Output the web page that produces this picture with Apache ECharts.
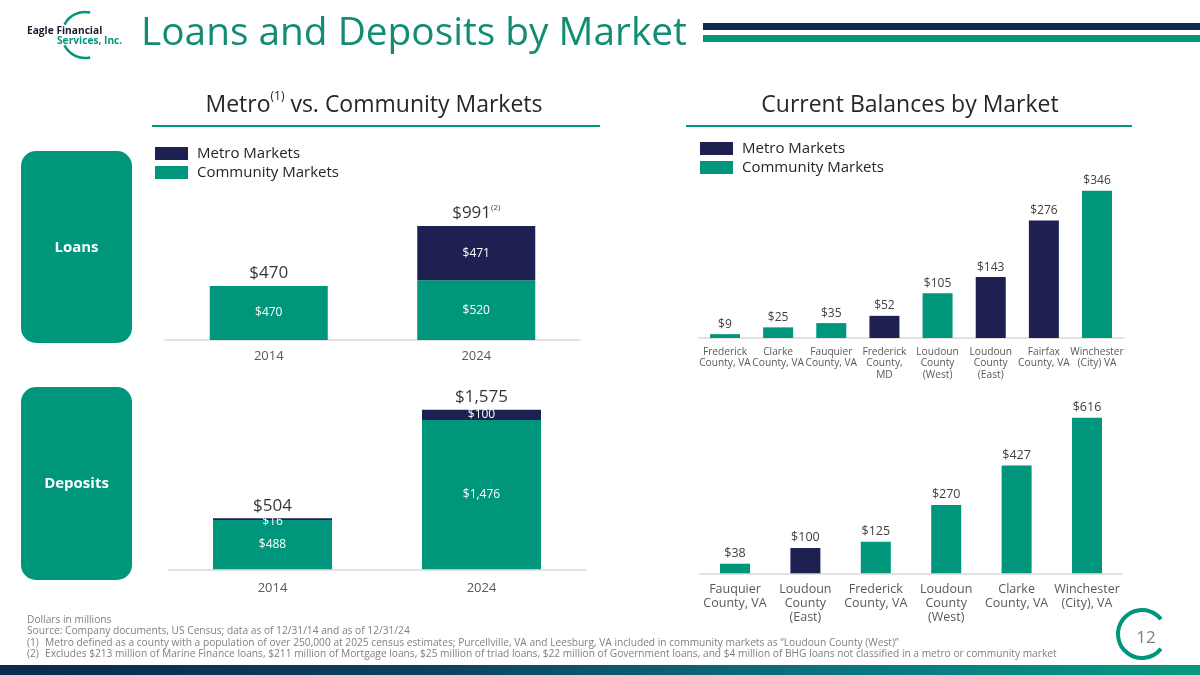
<!DOCTYPE html>
<html><head><meta charset="utf-8">
<script src="https://cdn.jsdelivr.net/npm/echarts@6/dist/echarts.min.js"></script>
<style>html,body{margin:0;padding:0;background:#fff}#c{width:1200px;height:675px}</style>
</head><body><div id="c"></div>
<script>
// ---------- data ----------
const years = ['2014', '2024'];
const loansCommunity = [470, 520];
const loansMetro = [null, 471];
const loansTotal = [470, 991];
const loansTotalNote = ['', '(2)'];
const depositsCommunity = [488, 1476];
const depositsMetro = [16, 100];
const depositsTotal = [504, 1575];

const loanMarkets = ['Frederick\nCounty, VA', 'Clarke\nCounty, VA', 'Fauquier\nCounty, VA', 'Frederick\nCounty,\nMD',
  'Loudoun\nCounty\n(West)', 'Loudoun\nCounty\n(East)', 'Fairfax\nCounty, VA', 'Winchester\n(City) VA'];
const loanBalances = [9, 25, 35, 52, 105, 143, 276, 346];
const loanMarketType = ['C', 'C', 'C', 'M', 'C', 'M', 'M', 'C'];

const depositMarkets = ['Fauquier\nCounty, VA', 'Loudoun\nCounty\n(East)', 'Frederick\nCounty, VA',
  'Loudoun\nCounty\n(West)', 'Clarke\nCounty, VA', 'Winchester\n(City), VA'];
const depositBalances = [38, 100, 125, 270, 427, 616];
const depositMarketType = ['C', 'M', 'C', 'C', 'C', 'C'];

const footnotes = [
  ['', 'Dollars in millions'],
  ['', 'Source: Company documents, US Census; data as of 12/31/14 and as of 12/31/24'],
  ['(1)', 'Metro defined as a county with a population of over 250,000 at 2025 census estimates; Purcellville, VA and Leesburg, VA included in community markets as \u201cLoudoun County (West)\u201d'],
  ['(2)', 'Excludes $213 million of Marine Finance loans, $211 million of Mortgage loans, $25 million of triad loans, $22 million of Government loans, and $4 million of BHG loans not classified in a metro or community market']
];

// ---------- style ----------
const TEAL = '#00967C';
const NAVY = '#1F2052';
const FONT = "'Open Sans', sans-serif";
const fmt = v => '$' + Number(v).toLocaleString('en-US');
const pick = (vals, types, t) => vals.map((v, i) => types[i] === t ? v : null);

const chart = echarts.init(document.getElementById('c'), null, { renderer: 'canvas' });

const baseX = (idx, data, fs, lh, margin) => ({
  type: 'category', gridIndex: idx, data: data,
  axisLine: { lineStyle: { color: '#D9D9D9', width: 1.5 } },
  axisTick: { show: false },
  axisLabel: { interval: 0, color: '#595959', fontSize: fs, lineHeight: lh, margin: margin, fontFamily: FONT }
});
const baseY = (idx, max) => ({ type: 'value', gridIndex: idx, min: 0, max: max, show: false, splitLine: { show: false } });
const grid = (left, width, top, height) => ({ left, width, top, height, containLabel: false, outerBoundsMode: 'none' });

const innerLabel = { show: true, position: 'inside', color: '#fff', fontSize: 12, fontFamily: FONT, formatter: p => fmt(p.value) };
const topLabel = (fs) => ({ show: true, position: 'top', distance: 4, color: '#404040', fontSize: fs, fontFamily: FONT, formatter: p => fmt(p.value) });

const totalSeries = (idx, data, notes) => ({
  type: 'scatter', xAxisIndex: idx, yAxisIndex: idx, data: data, symbolSize: 1,
  itemStyle: { color: 'rgba(0,0,0,0)' }, silent: true, z: 10,
  label: {
    show: true, position: 'top', distance: 2, color: '#000',
    formatter: p => '{v|' + fmt(p.value) + '}' + (notes && notes[p.dataIndex] ? '{s|' + notes[p.dataIndex] + '}' : ''),
    rich: {
      v: { fontSize: 17, color: '#000', fontFamily: FONT, lineHeight: 20 },
      s: { fontSize: 8, color: '#000', fontFamily: FONT, verticalAlign: 'top', lineHeight: 10 }
    }
  }
});

const depMetroData = depositsMetro.map((v, i) => (v !== null && v < 40)
  ? { value: v, label: { position: 'bottom', distance: 0, offset: [0, -4] } } : v);

const option = {
  animation: false,
  backgroundColor: '#ffffff',
  textStyle: { fontFamily: FONT },
  grid: [
    grid(165, 415, 202, 138),
    grid(168, 418, 387.1, 182.2),
    grid(698.4, 425.2, 167.7, 170.3),
    grid(699.8, 422.4, 396.5, 176.8)
  ],
  xAxis: [
    baseX(0, years, 13, 16, 8),
    baseX(1, years, 13, 16, 11),
    baseX(2, loanMarkets, 10.2, 11.5, 8),
    baseX(3, depositMarkets, 12.5, 14, 9)
  ],
  yAxis: [baseY(0, 1200), baseY(1, 1800), baseY(2, 400), baseY(3, 700)],
  legend: [
    { left: 155, top: 145.5, padding: 0, orient: 'vertical', icon: 'rect', itemWidth: 33, itemHeight: 13, itemGap: 3,
      selectedMode: false, data: ['Metro Markets', 'Community Markets'],
      textStyle: { fontSize: 15, color: '#262626', fontFamily: FONT, lineHeight: 16, padding: [0, 0, 0, 4] } },
    { left: 700, top: 140.5, padding: 0, orient: 'vertical', icon: 'rect', itemWidth: 33, itemHeight: 13, itemGap: 3,
      selectedMode: false, data: ['Metro Markets', 'Community Markets'],
      textStyle: { fontSize: 15, color: '#262626', fontFamily: FONT, lineHeight: 16, padding: [0, 0, 0, 4] } }
  ],
  series: [
    { name: 'Community Markets', type: 'bar', xAxisIndex: 0, yAxisIndex: 0, stack: 'loans', barWidth: 118,
      data: loansCommunity, itemStyle: { color: TEAL }, label: innerLabel },
    { name: 'Metro Markets', type: 'bar', xAxisIndex: 0, yAxisIndex: 0, stack: 'loans', barWidth: 118,
      data: loansMetro, itemStyle: { color: NAVY }, label: innerLabel },
    totalSeries(0, loansTotal, loansTotalNote),

    { name: 'Community Markets', type: 'bar', xAxisIndex: 1, yAxisIndex: 1, stack: 'dep', barWidth: 119,
      data: depositsCommunity, itemStyle: { color: TEAL }, label: innerLabel },
    { name: 'Metro Markets', type: 'bar', xAxisIndex: 1, yAxisIndex: 1, stack: 'dep', barWidth: 119,
      data: depMetroData, itemStyle: { color: NAVY }, label: innerLabel },
    totalSeries(1, depositsTotal, null),

    { name: 'Metro Markets', type: 'bar', xAxisIndex: 2, yAxisIndex: 2, stack: 'lb', barWidth: 30,
      data: pick(loanBalances, loanMarketType, 'M'), itemStyle: { color: NAVY }, label: topLabel(12) },
    { name: 'Community Markets', type: 'bar', xAxisIndex: 2, yAxisIndex: 2, stack: 'lb', barWidth: 30,
      data: pick(loanBalances, loanMarketType, 'C'), itemStyle: { color: TEAL }, label: topLabel(12) },

    { name: 'Metro Markets', type: 'bar', xAxisIndex: 3, yAxisIndex: 3, stack: 'db', barWidth: 30,
      data: pick(depositBalances, depositMarketType, 'M'), itemStyle: { color: NAVY }, label: topLabel(12.5) },
    { name: 'Community Markets', type: 'bar', xAxisIndex: 3, yAxisIndex: 3, stack: 'db', barWidth: 30,
      data: pick(depositBalances, depositMarketType, 'C'), itemStyle: { color: TEAL }, label: topLabel(12.5) }
  ],
  graphic: { elements: [] }
};

const G = option.graphic.elements;
const txt = (x, y, text, s) => G.push({ type: 'text', x: x, y: y, silent: true,
  style: Object.assign({ text: text, fontFamily: FONT, textAlign: 'left', align: 'left', textVerticalAlign: 'middle', verticalAlign: 'middle' }, s) });
const deg = d => d * Math.PI / 180;

// logo
G.push({ type: 'arc', shape: { cx: 85, cy: 35, r: 23, startAngle: deg(-153), endAngle: deg(-77), clockwise: true },
  style: { stroke: TEAL, lineWidth: 2.5, fill: null } });
G.push({ type: 'arc', shape: { cx: 85, cy: 35, r: 23, startAngle: deg(77), endAngle: deg(153), clockwise: true },
  style: { stroke: TEAL, lineWidth: 2.5, fill: null } });
txt(27, 31, 'Eagle Financial', { fontSize: 10.2, fontWeight: 'bold', fill: '#1B1B2F' });
txt(57, 41.5, 'Services, Inc.', { fontSize: 10.2, fontWeight: 'bold', fill: TEAL });

// title
txt(141, 34, 'Loans and Deposits by Market', { fontSize: 38.8, fill: '#138C74' });
G.push({ type: 'rect', shape: { x: 703, y: 23, width: 497, height: 7 }, style: { fill: '#0B2D55' } });
G.push({ type: 'rect', shape: { x: 703, y: 35, width: 497, height: 7 }, style: { fill: TEAL } });

// section subtitles
G.push({ type: 'text', x: 374, y: 105, silent: true, style: {
  text: '{a|Metro}{s|(1)}{a| vs. Community Markets}', textAlign: 'center', align: 'center',
  textVerticalAlign: 'middle', verticalAlign: 'middle',
  rich: { a: { fontSize: 23, fill: '#262626', fontFamily: FONT, lineHeight: 28 },
          s: { fontSize: 12, fill: '#262626', fontFamily: FONT, verticalAlign: 'top', lineHeight: 15 } } } });
txt(910, 105, 'Current Balances by Market', { fontSize: 23, fill: '#262626', textAlign: 'center', align: 'center' });
G.push({ type: 'line', shape: { x1: 152, y1: 126, x2: 600, y2: 126 }, style: { stroke: TEAL, lineWidth: 2 } });
G.push({ type: 'line', shape: { x1: 686, y1: 126, x2: 1132, y2: 126 }, style: { stroke: TEAL, lineWidth: 2 } });

// side boxes
G.push({ type: 'rect', shape: { x: 21, y: 151, width: 111, height: 192, r: 15 }, style: { fill: TEAL } });
G.push({ type: 'rect', shape: { x: 21, y: 387, width: 111, height: 193, r: 15 }, style: { fill: TEAL } });
txt(76.5, 248, 'Loans', { fontSize: 15, fontWeight: 'bold', fill: '#fff', textAlign: 'center', align: 'center' });
txt(76.5, 484, 'Deposits', { fontSize: 15, fontWeight: 'bold', fill: '#fff', textAlign: 'center', align: 'center' });

// footnotes
const fy = [620, 631.5, 643, 654.5];
footnotes.forEach((f, i) => {
  if (f[0]) txt(27, fy[i], f[0], { fontSize: 10.2, fill: '#808080' });
  txt(f[0] ? 45 : 27, fy[i], f[1], { fontSize: 10.2, fill: '#808080' });
});

// page number
G.push({ type: 'arc', shape: { cx: 1142, cy: 634, r: 24, startAngle: deg(38), endAngle: deg(322), clockwise: true },
  style: { stroke: TEAL, lineWidth: 4, fill: null } });
txt(1146, 638, '12', { fontSize: 17, fill: '#7F7F7F', textAlign: 'center', align: 'center' });

// bottom bar
G.push({ type: 'rect', shape: { x: 0, y: 665, width: 1200, height: 10 }, style: {
  fill: new echarts.graphic.LinearGradient(0, 0, 1, 0, [
    { offset: 0, color: '#0B2A4A' }, { offset: 0.35, color: '#0E3F5F' },
    { offset: 0.7, color: '#0B7482' }, { offset: 1, color: '#07997F' }]) } });

chart.setOption(option);
</script>
</body></html>
